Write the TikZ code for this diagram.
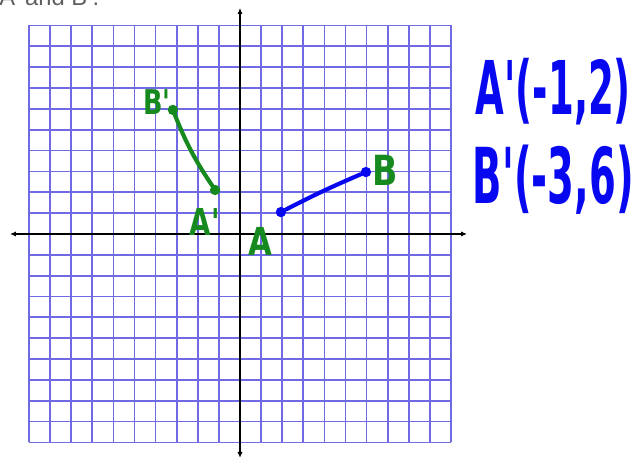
\documentclass[tikz,border=0pt]{standalone}
\usepackage{fontspec}
\setmainfont{Liberation Sans}
\newfontfamily\handfont{DejaVu Sans}
\usetikzlibrary{arrows.meta}

\definecolor{gridblue}{RGB}{112,106,228}
\definecolor{penblue}{RGB}{8,8,240}
\definecolor{pengreen}{RGB}{22,138,30}
\definecolor{capgray}{RGB}{95,95,95}

\begin{document}
\begin{tikzpicture}[x=0.5cm, y=0.494cm,
    gridline/.style={gridblue, line width=1.2pt},
    axis/.style={black, line width=1.3pt, {Latex[length=4pt,width=3.5pt]}-{Latex[length=4pt,width=3.5pt]}},
    pen/.style={line width=2.8pt, line cap=round},
    dot/.style={circle, fill, inner sep=0pt, minimum size=7pt},
    hand/.style={inner sep=0pt, transform shape}]
    \clip (-11.374,-10.887) rectangle (18.957,11.223);

    % caption left over from the worksheet
    \node[anchor=base west, capgray, font=\fontsize{16}{16}\selectfont, inner sep=0pt]
        (cap) at (-11.42,10.98) {A' and B'.};

    % graph paper and axes
    \draw[gridline, step={(1,1)}] (-10,-10) grid (10,10);
    \draw[axis] (-10.9,0) -- (10.76,0);
    \draw[axis] (0,-10.74) -- (0,10.84);

    % points
    \node[dot, penblue] (A) at (1.94,1.05) {};
    \node[dot, penblue] (B) at (5.97,2.97) {};
    \node[dot, pengreen] (Ap) at (-1.18,2.11) {};
    \node[dot, pengreen] (Bp) at (-3.18,5.95) {};

    % segments
    \draw[pen, penblue] (A) to[bend left=2] (B);
    \draw[pen, pengreen] (Ap) to[bend left=6] (Bp);

    % handwritten labels
    \node[hand, pengreen, xscale=0.75, font=\handfont\bfseries\fontsize{23}{23}\selectfont] (lblBp) at (-3.93,6.33) {B'};
    \node[hand, pengreen, xscale=0.75, font=\handfont\bfseries\fontsize{25}{25}\selectfont] (lblAp) at (-1.66,0.58) {A'};
    \node[hand, pengreen, xscale=0.8, font=\handfont\bfseries\fontsize{26}{26}\selectfont] (lblA) at (0.95,-0.38) {A};
    \node[hand, pengreen, xscale=0.8, font=\handfont\bfseries\fontsize{28}{28}\selectfont] (lblB) at (6.87,3.07) {B};

    \node[hand, penblue, xscale=0.5, font=\handfont\bfseries\fontsize{50}{50}\selectfont] (coordAp) at (14.85,6.81) {A'(-1,2)};
    \node[hand, penblue, xscale=0.5, font=\handfont\bfseries\fontsize{52}{52}\selectfont] (coordBp) at (14.85,2.59) {B'(-3,6)};
\end{tikzpicture}
\end{document}
